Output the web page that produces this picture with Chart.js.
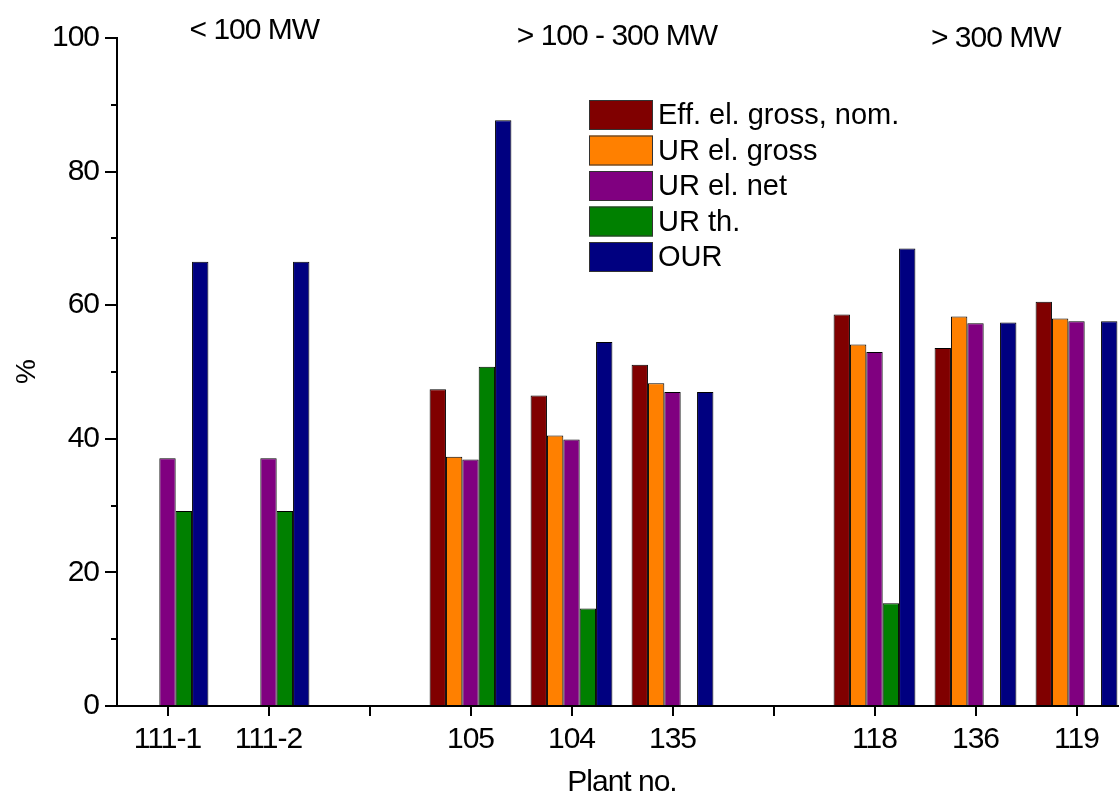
<!DOCTYPE html>
<html lang="en">
<head>
    <meta charset="UTF-8">
    <script src="https://cdn.jsdelivr.net/npm/chart.js@4"></script>
    <title>Plant utilisation</title>
    <style>
        body { margin: 0; overflow: hidden; background: #fff; }
        #wrap { position: absolute; left: 0; top: 0; width: 1128px; height: 798px; }
    </style>
</head>
<body>
<div id="wrap"><canvas id="myChart" width="1128" height="798"></canvas></div>
<script>
// plants, empty slots are the gaps between size classes
var plants = ['111-1', '111-2', '', '105', '104', '135', '', '118', '136', '119'];
var effElGross = [null, null, null, 47.4, 46.5, 51.1, null, 58.6, 53.6, 60.5];
var urElGross  = [null, null, null, 37.3, 40.5, 48.3, null, 54.1, 58.3, 58.0];
var urElNet    = [37.1, 37.1, null, 36.9, 39.9, 47.0, null, 53.0, 57.3, 57.6];
var urTh       = [29.2, 29.2, null, 50.8, 14.6, null, null, 15.4, null, null];
var our        = [66.5, 66.5, null, 87.7, 54.5, 47.0, null, 68.5, 57.4, 57.6];
var seriesNames = ['Eff. el. gross, nom.', 'UR el. gross', 'UR el. net', 'UR th.', 'OUR'];
var sizeClasses = ['< 100 MW', '> 100 - 300 MW', '> 300 MW'];

var colors = ['#800000', '#ff8000', '#800080', '#008000', '#000080'];
var FONT = '"Liberation Sans", Arial, sans-serif';

function ds(i, data) {
    return {
        label: seriesNames[i],
        data: data,
        backgroundColor: colors[i],
        borderColor: '#000',
        borderWidth: 1,
        categoryPercentage: 0.81,
        barPercentage: 1
    };
}

// the original lettering is a bit condensed
var tight = {
    id: 'tight',
    beforeUpdate: function (chart) { chart.ctx.letterSpacing = '-1px'; },
    beforeDraw: function (chart) { chart.ctx.letterSpacing = '-1px'; }
};

// minor y ticks, size class labels and the legend box
var extras = {
    id: 'extras',
    afterDraw: function (chart) {
        var c = chart.ctx, x = chart.scales.x, y = chart.scales.y;
        c.save();
        c.strokeStyle = '#000';
        c.lineWidth = 2;
        [10, 30, 50, 70, 90].forEach(function (v) {
            var py = Math.round(y.getPixelForValue(v));
            c.beginPath();
            c.moveTo(x.left - 6, py);
            c.lineTo(x.left, py);
            c.stroke();
        });

        c.fillStyle = '#000';
        c.textAlign = 'center';
        c.textBaseline = 'alphabetic';
        c.font = '30px ' + FONT;
        c.letterSpacing = '-1px';
        var pos = [0.86, 4.45, 8.2], base = [39, 45, 47];
        sizeClasses.forEach(function (t, i) {
            c.fillText(t, x.getPixelForValue(pos[i]), base[i]);
        });

        c.letterSpacing = '0px';
        c.textAlign = 'left';
        c.textBaseline = 'middle';
        c.font = '29px ' + FONT;
        chart.data.datasets.forEach(function (d, i) {
            var top = 100 + i * 35.5;
            c.fillStyle = d.backgroundColor;
            c.fillRect(589, top, 64, 30);
            c.strokeStyle = '#333';
            c.lineWidth = 1;
            c.strokeRect(589.5, top + 0.5, 63, 29);
            c.fillStyle = '#000';
            c.fillText(d.label, 658, top + 16);
        });
        c.restore();
    }
};

var ctx = document.getElementById('myChart').getContext('2d');
var chart = new Chart(ctx, {
    type: 'bar',
    data: {
        labels: plants,
        datasets: [ds(0, effElGross), ds(1, urElGross), ds(2, urElNet), ds(3, urTh), ds(4, our)]
    },
    options: {
        responsive: false,
        animation: false,
        devicePixelRatio: 1,
        layout: { padding: { top: 38, right: 1, left: 0, bottom: 0 } },
        plugins: { legend: { display: false }, tooltip: { enabled: false } },
        scales: {
            x: {
                grid: { drawOnChartArea: false, offset: false, tickLength: 10, color: '#000', lineWidth: 2 },
                border: { color: '#000', width: 2 },
                ticks: { color: '#000', font: { family: FONT, size: 30 }, padding: 6, maxRotation: 0, autoSkip: false },
                title: { display: true, text: 'Plant no.', color: '#000', font: { family: FONT, size: 30, lineHeight: 1 }, padding: { top: 0, bottom: 0 } },
                afterFit: function (s) { s.height = 92; }
            },
            y: {
                min: 0,
                max: 100,
                grid: { drawOnChartArea: false, tickLength: 12, color: '#000', lineWidth: 2 },
                border: { color: '#000', width: 2 },
                ticks: { stepSize: 20, color: '#000', font: { family: FONT, size: 30 }, padding: 6 },
                title: { display: true, text: '%', color: '#000', font: { family: FONT, size: 28 }, padding: { top: 10, bottom: 0 } },
                afterFit: function (s) { s.width = 117; }
            }
        }
    },
    plugins: [tight, extras]
});
</script>
</body>
</html>
